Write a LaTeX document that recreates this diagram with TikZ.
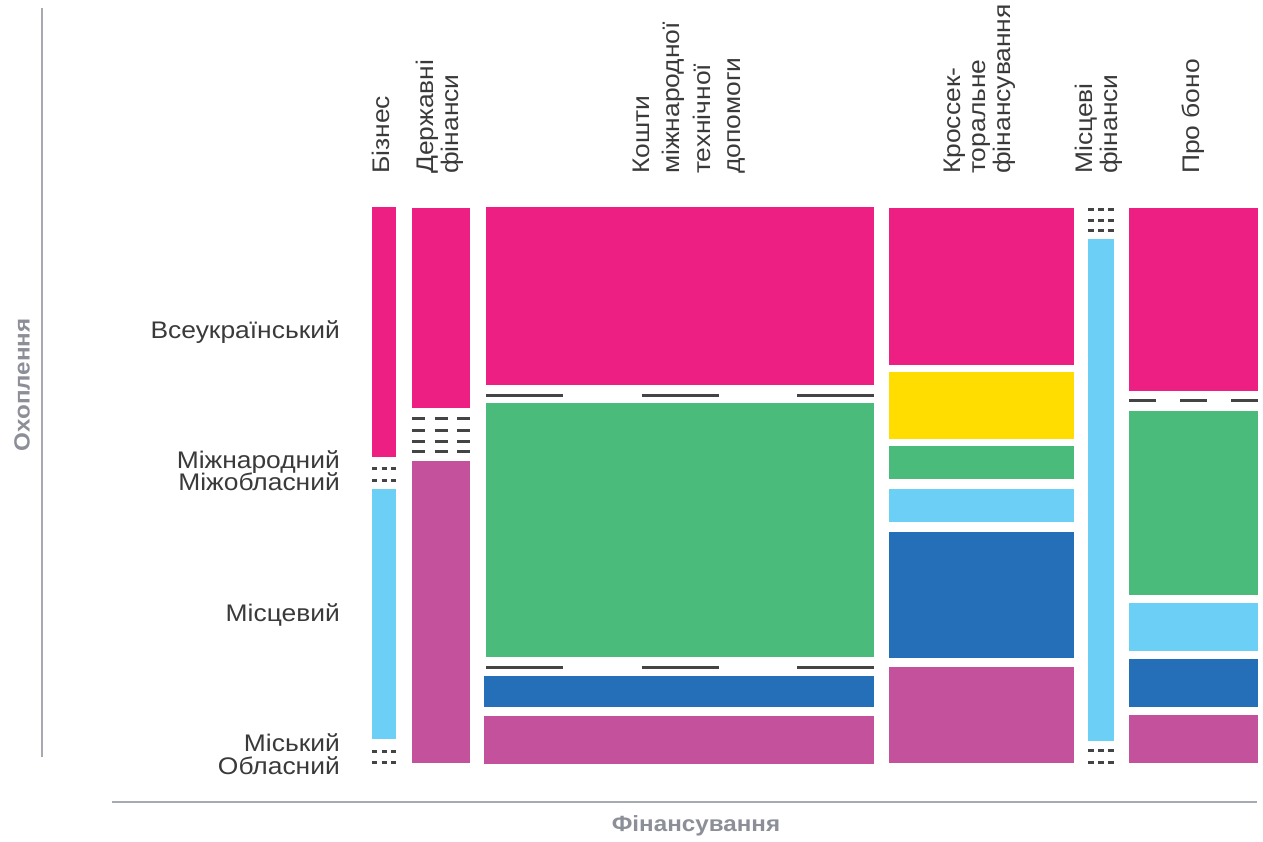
\documentclass[tikz,border=0pt]{standalone}
\usepackage{fontspec}
\setmainfont{Liberation Sans}[FakeStretch=1.1]
\usepackage{tikz}
\usetikzlibrary{positioning}
\definecolor{pinkColor}{HTML}{EE1F82}
\definecolor{yellowColor}{HTML}{FFDD00}
\definecolor{greenColor}{HTML}{4ABB7A}
\definecolor{skyColor}{HTML}{6CCFF6}
\definecolor{blueColor}{HTML}{256EB8}
\definecolor{purpleColor}{HTML}{C3519C}
\definecolor{gapColor}{HTML}{444444}
\definecolor{labelColor}{HTML}{3A3A3A}
\definecolor{axisColor}{HTML}{A8AAB2}
\definecolor{axisTitleColor}{HTML}{8C8F98}

\begin{document}
\begin{tikzpicture}[
  x=1pt, y=-1pt,
  every node/.style={inner sep=0pt, text=labelColor, font=\fontsize{24}{25}\selectfont},
  block/.style={fill=#1},
  gapline/.style={draw=gapColor, line width=3pt, dash pattern=#1},
  level label/.style={anchor=base east},
  source label/.style={rotate=90, anchor=west, align=left},
  wide source label/.style={source label, font=\fontsize{24}{30.5}\selectfont},
  axis title/.style={text=axisTitleColor, font=\bfseries\fontsize{22}{22}\selectfont},
  axis/.style={draw=axisColor, line width=2pt}
]
\useasboundingbox (0,0) rectangle (1263,841);

\draw[axis] (42,8) -- (42,757);
\draw[axis] (112,802) -- (1257,802);
\node[axis title, rotate=90] (coverage) at (22,385) {Охоплення};
\node[axis title] (funding) at (696,826) {Фінансування};

\node[level label] (nationwide) at (340,338) {Всеукраїнський};
\node[level label] (international) at (340,468) {Міжнародний};
\node[level label] (interregional) at (340,490) {Міжобласний};
\node[level label] (local) at (340,621) {Місцевий};
\node[level label] (city) at (340,751) {Міський};
\node[level label] (regional) at (340,774) {Обласний};

\node[source label] (business) at (381,174) {Бізнес};
\node[source label] (statefin) at (440,174) {Державні\\фінанси};
\node[wide source label] (techaid) at (689,174) {Кошти\\міжнародної\\технічної\\допомоги};
\node[source label] (crosssec) at (980,174) {Кроссек-\\торальне\\фінансування};
\node[source label] (localfin) at (1099,174) {Місцеві\\фінанси};
\node[source label] (probono) at (1193,174) {Про боно};

\fill[block=pinkColor] (372,207) rectangle (396,457);
\foreach \y in {468,480,751,762}
  \draw[gapline={on 5pt off 4.5pt}] (372,\y) -- (396,\y);
\fill[block=skyColor] (372,489) rectangle (396,739);

\fill[block=pinkColor] (412,208) rectangle (470,408);
\foreach \y in {418,430,441,451}
  \draw[gapline={on 13pt off 9.5pt}] (412,\y) -- (470,\y);
\fill[block=purpleColor] (412,461) rectangle (470,763);

\fill[block=pinkColor] (486,207) rectangle (874,385);
\foreach \y in {395,667}
  \draw[gapline={on 77pt off 78.5pt}] (486,\y) -- (874,\y);
\fill[block=greenColor] (486,403) rectangle (874,657);
\fill[block=blueColor] (484,676) rectangle (874,707);
\fill[block=purpleColor] (484,716) rectangle (874,764);

\fill[block=pinkColor] (889,208) rectangle (1074,365);
\fill[block=yellowColor] (889,372) rectangle (1074,439);
\fill[block=greenColor] (889,446) rectangle (1074,479);
\fill[block=skyColor] (889,489) rectangle (1074,522);
\fill[block=blueColor] (889,532) rectangle (1074,658);
\fill[block=purpleColor] (889,667) rectangle (1074,763);

\foreach \y in {209,220,230,750,762}
  \draw[gapline={on 6pt off 4pt}] (1088,\y) -- (1114,\y);
\fill[block=skyColor] (1088,239) rectangle (1114,741);

\fill[block=pinkColor] (1129,208) rectangle (1258,391);
\draw[gapline={on 27pt off 24pt}] (1129,400) -- (1258,400);
\fill[block=greenColor] (1129,411) rectangle (1258,595);
\fill[block=skyColor] (1129,603) rectangle (1258,651);
\fill[block=blueColor] (1129,659) rectangle (1258,707);
\fill[block=purpleColor] (1129,715) rectangle (1258,763);
\end{tikzpicture}
\end{document}
